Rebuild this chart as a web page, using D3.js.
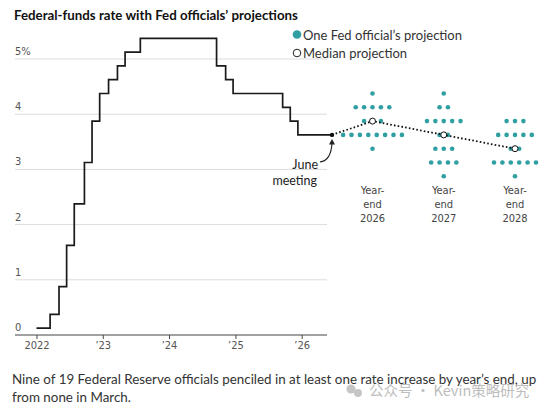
<!DOCTYPE html>
<html>
<head>
<meta charset="utf-8">
<script src="https://cdn.jsdelivr.net/npm/d3@7"></script>
<style>
  body { margin: 0; background: #fff; }
  svg { display: block; }
  .narrow { font-family: "Liberation Sans Narrow", "DejaVu Sans Condensed", "Roboto", sans-serif; }
  .body { font-family: "Lato", "Roboto", sans-serif; }
</style>
</head>
<body>
<svg width="550" height="414"></svg>
<script>
// Fed funds rate (target range midpoint), change dates
const rateDates = ["2022-01-01", "2022-03-17", "2022-05-05", "2022-06-16", "2022-07-28", "2022-09-22",
  "2022-11-03", "2022-12-15", "2023-02-02", "2023-03-23", "2023-05-04", "2023-07-27",
  "2024-09-19", "2024-11-08", "2024-12-19", "2025-09-18", "2025-10-30", "2025-12-11", "2026-06-17"];
const rateValues = [0.125, 0.375, 0.875, 1.625, 2.375, 3.125, 3.875, 4.375, 4.625, 4.875, 5.125, 5.375,
  4.875, 4.625, 4.375, 4.125, 3.875, 3.625, 3.625];

// Dot plot: number of officials at each rate level
const projYears = ["2026", "2027", "2028"];
const projRates = [4.375, 4.125, 3.875, 3.625, 3.375, 3.125, 2.875];
const dots2026 = [1, 5, 3, 8, 1, 0, 0];
const dots2027 = [1, 2, 5, 2, 3, 4, 1];
const dots2028 = [0, 0, 3, 5, 2, 6, 1];
const medians = [3.875, 3.625, 3.375];

const yTicks = [0, 1, 2, 3, 4, 5];
const xTickYears = ["2022-01-01", "2023-01-01", "2024-01-01", "2025-01-01", "2026-01-01"];
const xTickLabels = ["2022", "\u201923", "\u201924", "\u201925", "\u201926"];

const teal = "#2f9fa2";
const svg = d3.select("svg");
const parse = d3.timeParse("%Y-%m-%d");

const x = d3.scaleTime()
  .domain([parse("2022-01-01"), parse("2026-01-01")])
  .range([36.5, 301.7]);
const y = d3.scaleLinear().domain([0, 5]).range([335, 59]);
const px = d3.scalePoint().domain(projYears).range([372.5, 515]);
const left = 15, right = 327;
const dotGap = 8.4;

// Title
svg.append("text")
  .attr("class", "body")
  .attr("x", 14).attr("y", 20)
  .attr("font-size", 13.3).attr("font-weight", 700).attr("fill", "#111")
  .text("Federal-funds rate with Fed officials\u2019 projections");

// Gridlines and y labels
const grid = svg.append("g");
grid.selectAll("line")
  .data(yTicks.filter(d => d > 0))
  .join("line")
  .attr("x1", left).attr("x2", right)
  .attr("y1", d => y(d)).attr("y2", d => y(d))
  .attr("stroke", "#dcdcdc").attr("stroke-width", 1);

grid.selectAll("text")
  .data(yTicks)
  .join("text")
  .attr("class", "narrow")
  .attr("x", left).attr("y", d => y(d) - 4)
  .attr("font-size", 11).attr("fill", "#555")
  .text(d => d === 5 ? "5%" : d);

// X axis
const xAxis = svg.append("g")
  .attr("transform", `translate(0,${y(0)})`);
xAxis.append("line")
  .attr("x1", left).attr("x2", right)
  .attr("stroke", "#444").attr("stroke-width", 1);
xAxis.call(d3.axisBottom(x)
    .tickValues(xTickYears.map(parse))
    .tickFormat((d, i) => xTickLabels[i])
    .tickSize(4)
    .tickPadding(2))
  .call(g => g.select(".domain").remove())
  .call(g => g.selectAll(".tick line").attr("stroke", "#444"))
  .call(g => g.selectAll(".tick text")
    .attr("class", "narrow")
    .attr("font-family", null)
    .attr("font-size", 11).attr("fill", "#555"));

// Step line of the fed funds rate
const rateData = rateDates.map((d, i) => ({ date: parse(d), value: rateValues[i] }));
const step = d3.line()
  .x(d => x(d.date))
  .y(d => y(d.value))
  .curve(d3.curveStepAfter);

svg.append("path")
  .datum(rateData)
  .attr("d", step)
  .attr("fill", "none")
  .attr("stroke", "#1a1a1a")
  .attr("stroke-width", 1.7);

const june = rateData[rateData.length - 1];
const jx = x(june.date), jy = y(june.value);

// Projection dots
const allDots = [dots2026, dots2027, dots2028];
const dotData = [];
allDots.forEach((counts, c) => {
  counts.forEach((n, r) => {
    for (let i = 0; i < n; i++) {
      dotData.push({ year: projYears[c], rate: projRates[r], offset: i - (n - 1) / 2 });
    }
  });
});

svg.append("g").selectAll("circle")
  .data(dotData)
  .join("circle")
  .attr("cx", d => px(d.year) + d.offset * dotGap)
  .attr("cy", d => y(d.rate))
  .attr("r", 2.3)
  .attr("fill", teal);

// Median dotted line
const medData = [{ x: jx, v: june.value }].concat(medians.map((m, i) => ({ x: px(projYears[i]), v: m })));
svg.append("path")
  .datum(medData)
  .attr("d", d3.line().x(d => d.x).y(d => y(d.v)))
  .attr("fill", "none")
  .attr("stroke", "#111")
  .attr("stroke-width", 1.8)
  .attr("stroke-dasharray", "1.6,2.2");

svg.append("g").selectAll("circle")
  .data(medians)
  .join("circle")
  .attr("cx", (d, i) => px(projYears[i]))
  .attr("cy", d => y(d))
  .attr("r", 3)
  .attr("fill", "#fff")
  .attr("stroke", "#111")
  .attr("stroke-width", 1);

// June meeting marker and annotation
svg.append("circle")
  .attr("cx", jx).attr("cy", jy).attr("r", 2.2).attr("fill", "#111");

svg.append("path")
  .attr("d", `M${jx - 12},${jy + 27} Q${jx - 1},${jy + 26} ${jx},${jy + 8}`)
  .attr("fill", "none").attr("stroke", "#222").attr("stroke-width", 1.1);
svg.append("path")
  .attr("d", `M${jx - 3},${jy + 9.5} L${jx},${jy + 4} L${jx + 3},${jy + 9.5} Z`)
  .attr("fill", "#222");

svg.append("text")
  .attr("class", "body")
  .attr("x", jx - 14).attr("y", jy + 34)
  .attr("text-anchor", "end")
  .attr("font-size", 12.5).attr("fill", "#222")
  .text("June");
svg.append("text")
  .attr("class", "body")
  .attr("x", jx - 15).attr("y", jy + 50)
  .attr("text-anchor", "end")
  .attr("font-size", 12.5).attr("fill", "#222")
  .text("meeting");

// Year-end labels
const yl = svg.append("g").selectAll("text")
  .data(projYears)
  .join("text")
  .attr("class", "narrow")
  .attr("text-anchor", "middle")
  .attr("font-size", 11).attr("fill", "#444");
yl.append("tspan").attr("x", d => px(d)).attr("y", 194).text("Year-");
yl.append("tspan").attr("x", d => px(d)).attr("y", 208).text("end");
yl.append("tspan").attr("x", d => px(d)).attr("y", 222).text(d => d);

// Legend
const lg = svg.append("g").attr("class", "body");
lg.append("circle").attr("cx", 297).attr("cy", 34.5).attr("r", 4.3).attr("fill", teal);
lg.append("text").attr("x", 303).attr("y", 39.5)
  .attr("font-size", 13).attr("fill", "#333")
  .text("One Fed official\u2019s projection");
lg.append("circle").attr("cx", 297).attr("cy", 53).attr("r", 3.8)
  .attr("fill", "#fff").attr("stroke", "#222").attr("stroke-width", 1);
lg.append("text").attr("x", 303).attr("y", 58)
  .attr("font-size", 13).attr("fill", "#333")
  .text("Median projection");

// Footnote
const note = svg.append("text")
  .attr("class", "body")
  .attr("font-size", 13.4).attr("fill", "#333");
note.append("tspan").attr("x", 12).attr("y", 384)
  .text("Nine of 19 Federal Reserve officials penciled in at least one rate increase by year\u2019s end, up");
note.append("tspan").attr("x", 12).attr("y", 402)
  .text("from none in March.");

// Watermark
const wm = svg.append("g").attr("opacity", 0.55);
wm.append("circle").attr("cx", 351).attr("cy", 389).attr("r", 4.5).attr("fill", "#999");
wm.append("circle").attr("cx", 358).attr("cy", 393).attr("r", 4).attr("fill", "#999");
wm.append("text")
  .attr("x", 369).attr("y", 396)
  .attr("font-family", "Noto Sans CJK SC, sans-serif")
  .attr("font-size", 14.5).attr("fill", "#888")
  .text("公众号 · Kevin策略研究");
</script>
</body>
</html>
